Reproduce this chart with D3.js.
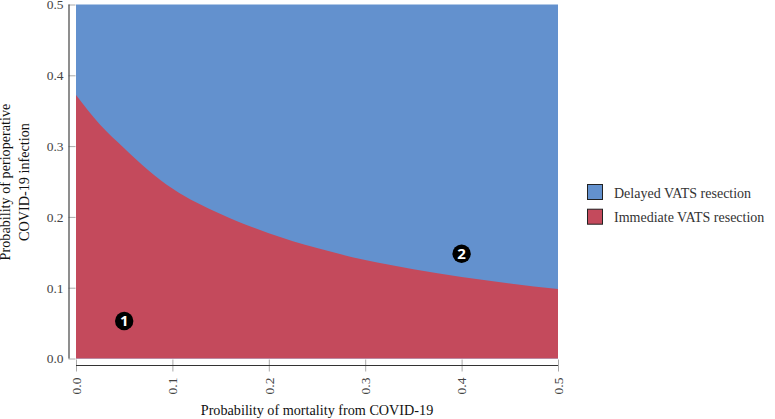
<!DOCTYPE html>
<html><head><meta charset="utf-8">
<script src="https://cdn.jsdelivr.net/npm/d3@7"></script>
<style>html,body{margin:0;padding:0;background:#fff}svg{display:block}text{font-family:"Liberation Serif",serif}</style>
</head><body><svg id="c" width="775" height="419"></svg>
<script>
const mortality = [0,0.025,0.05,0.075,0.1,0.15,0.2,0.25,0.3,0.35,0.4,0.45,0.5];
const boundary = [0.372,0.33,0.297,0.266,0.24,0.204,0.177,0.156,0.139,0.126,0.115,0.106,0.098];
const xTicks = [0,0.1,0.2,0.3,0.4,0.5];
const yTicks = [0,0.1,0.2,0.3,0.4,0.5];
const legendLabels = ["Delayed VATS resection","Immediate VATS resection"];
const legendColors = ["#6391CE","#C44A5C"];
const xTitle = "Probability of mortality from COVID-19";
const yTitle = ["Probability of perioperative","COVID-19 infection"];
const markers = [{n:"1",x:0.05,y:0.053},{n:"2",x:0.4,y:0.148}];

const svg = d3.select("#c");
const x = d3.scaleLinear().domain([0,0.5]).range([76,558]);
const y = d3.scaleLinear().domain([0,0.5]).range([358.5,4.5]);
const pts = mortality.map((m,i)=>[m,boundary[i]]);

svg.append("rect").attr("x",x(0)).attr("y",y(0.5)).attr("width",x(0.5)-x(0)).attr("height",y(0)-y(0.5)).attr("fill",legendColors[0]);
svg.append("path").datum(pts).attr("fill",legendColors[1])
  .attr("d",d3.area().x(d=>x(d[0])).y0(y(0)).y1(d=>y(d[1])).curve(d3.curveMonotoneX));

const yAxis = d3.axisLeft(y).tickValues(yTicks).tickFormat(d3.format(".1f")).tickSize(7).tickPadding(5);
const gy = svg.append("g").attr("transform","translate(75.5,0)").call(yAxis);
gy.select(".domain").remove();
gy.selectAll("line").attr("stroke","#aaa");
gy.selectAll("text").attr("font-size",13.5).attr("fill","#444").attr("dy","0.32em");
svg.append("line").attr("x1",69).attr("x2",69).attr("y1",y(0.5)).attr("y2",y(0)).attr("stroke","#444").attr("stroke-width",1.2);

const xAxis = d3.axisBottom(x).tickValues(xTicks).tickFormat(d3.format(".1f")).tickSize(12).tickPadding(5);
const gx = svg.append("g").attr("transform","translate(0,359.5)").call(xAxis);
gx.select(".domain").remove();
gx.selectAll("line").attr("stroke","#aaa");
gx.selectAll("text").attr("font-size",13.5).attr("fill","#444")
  .attr("transform",d=>`translate(0,0) rotate(-90,${0},${18})`)
  .attr("text-anchor","end").attr("x",0).attr("y",18).attr("dy","0.32em");
svg.append("line").attr("x1",x(0)).attr("x2",x(0.5)).attr("y1",365.5).attr("y2",365.5).attr("stroke","#333").attr("stroke-width",1.2);

svg.append("text").attr("x",317).attr("y",415).attr("text-anchor","middle").attr("font-size",14.2).attr("fill","#111").text(xTitle);
const yt = svg.append("text").attr("transform","translate(0,182) rotate(-90)").attr("text-anchor","middle").attr("font-size",14.2).attr("fill","#111");
yTitle.forEach((t,i)=>yt.append("tspan").attr("x",0).attr("y",10+i*19).text(t));

const lg = svg.selectAll("g.lg").data(legendLabels).join("g").attr("class","lg")
  .attr("transform",(d,i)=>`translate(587.5,${184.5+i*24.7})`);
lg.append("rect").attr("width",15).attr("height",15).attr("fill",(d,i)=>legendColors[i]).attr("stroke","#222").attr("stroke-width",1);
lg.append("text").attr("x",26.5).attr("y",13).attr("font-size",14).attr("fill","#333").text(d=>d);

const mk = svg.selectAll("g.mk").data(markers).join("g").attr("class","mk").attr("transform",d=>`translate(${x(d.x)},${y(d.y)})`);
mk.append("circle").attr("r",9.2).attr("fill","#000");
mk.append("text").attr("text-anchor","middle").attr("y",5.5).attr("font-size",15).attr("font-weight",700).attr("fill","#fff").style("font-family","'Open Sans',sans-serif").text(d=>d.n);
</script></body></html>
